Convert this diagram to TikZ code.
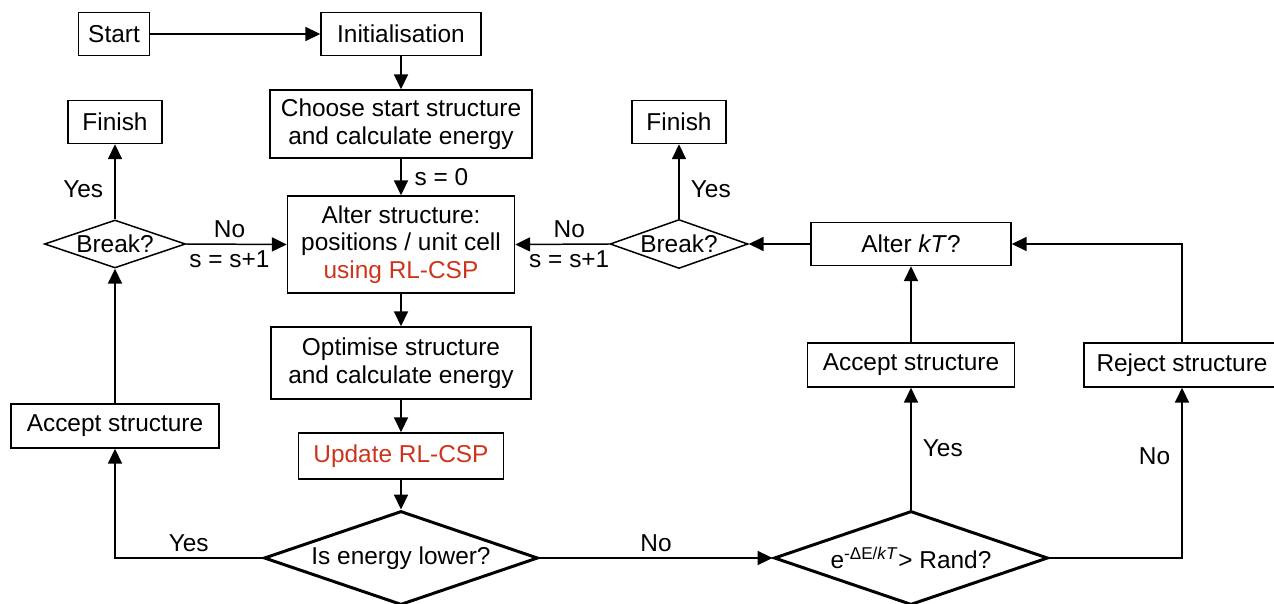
\documentclass[tikz,border=0pt]{standalone}
\usepackage{fontspec}
\setmainfont{Liberation Sans}
\usetikzlibrary{shapes.geometric,arrows.meta}

\definecolor{rlred}{RGB}{206,52,28}

\begin{document}
\begin{tikzpicture}[x=0.02cm, y=-0.02cm,
    font=\fontsize{13.9}{15.8}\selectfont,
    box/.style={draw, line width=0.85pt, align=center, inner sep=0pt},
    decision/.style={draw, diamond, aspect=2.9, inner sep=0pt, line width=0.85pt},
    bigdecision/.style={decision, line width=1.7pt},
    arr/.style={line width=0.85pt, -{Triangle[length=8.5pt, width=8pt]}}]

    \useasboundingbox (0,0) rectangle (1274,604);

    % Start and set-up column
    \node[box, minimum width=1.42cm, minimum height=0.86cm] (start) at (114,34) {Start};
    \node[box, minimum width=3.2cm, minimum height=0.86cm] (init) at (401,34) {Initialisation};
    \node[box, minimum width=5.24cm, minimum height=1.36cm] (choose) at (401,124)
        {Choose start structure\\and calculate energy};
    \node[box, minimum width=4.54cm, minimum height=1.94cm] (alter) at (401,244.5)
        {Alter structure:\\positions / unit cell\\\textcolor{rlred}{using RL-CSP}};
    \node[box, minimum width=5.2cm, minimum height=1.44cm] (optimise) at (401,363)
        {Optimise structure\\and calculate energy};
    \node[box, minimum width=4.1cm, minimum height=0.92cm, text=rlred] (update) at (401,456)
        {Update RL-CSP};
    \node[bigdecision, minimum width=5.48cm, minimum height=1.88cm] (lower) at (401,558)
        {Is energy lower?};

    % Left branch
    \node[box, minimum width=4.16cm, minimum height=0.88cm] (acceptL) at (115,426) {Accept structure};
    \node[decision, minimum width=2.82cm, minimum height=0.96cm] (breakL) at (115,244) {Break?};
    \node[box, minimum width=1.88cm, minimum height=0.86cm] (finishL) at (115,122) {Finish};

    % Right branch
    \node[bigdecision, minimum width=5.48cm, minimum height=1.88cm] (rand) at (911,558)
        {e\textsuperscript{-ΔE/\textit{kT}}> Rand?};
    \node[box, minimum width=4.14cm, minimum height=0.88cm] (acceptR) at (911,365) {Accept structure};
    \node[box, minimum width=3.92cm, minimum height=0.88cm] (reject) at (1182,365) {Reject structure};
    \node[box, minimum width=4.0cm, minimum height=0.86cm] (alterkT) at (911,244) {Alter \textit{kT}?};
    \node[decision, minimum width=2.76cm, minimum height=0.98cm] (breakR) at (679,244) {Break?};
    \node[box, minimum width=1.88cm, minimum height=0.86cm] (finishR) at (679,122) {Finish};

    % Main column arrows
    \draw[arr] (start) -- (init);
    \draw[arr] (init) -- (choose);
    \draw[arr] (choose) -- node[right, xshift=4pt] (szero) {s = 0} (alter);
    \draw[arr] (alter) -- (optimise);
    \draw[arr] (optimise) -- (update);
    \draw[arr] (update) -- (lower);

    % Lower energy: accept
    \draw[arr] (lower.west) -| node[pos=0.25, above] (yesA) {Yes} (acceptL.south);
    \draw[arr] (acceptL) -- (breakL);
    \draw[arr] (breakL) -- node[pos=0.4, left, xshift=-3pt] (yesB) {Yes} (finishL);
    \draw[arr] (breakL.east) -- node[above, xshift=-4pt] (noB) {No} node[below, xshift=-4pt] (incB) {s = s+1} (alter.west);

    % Higher energy: Metropolis test
    \draw[arr] (lower.east) -- node[above] (noA) {No} (rand.west);
    \draw[arr] (rand.north) -- node[right, xshift=3pt] (yesC) {Yes} (acceptR.south);
    \draw[arr] (rand.east) -| node[pos=0.8, left, xshift=-3pt] (noC) {No} (reject.south);
    \draw[arr] (acceptR) -- (alterkT);
    \draw[arr] (reject.north) |- (alterkT.east);
    \draw[arr] (alterkT) -- (breakR);
    \draw[arr] (breakR) -- node[pos=0.4, right, xshift=3pt] (yesD) {Yes} (finishR);
    \draw[arr] (breakR.west) -- node[above, xshift=4pt] (noD) {No} node[below, xshift=4pt] (incD) {s = s+1} (alter.east);

\end{tikzpicture}
\end{document}
